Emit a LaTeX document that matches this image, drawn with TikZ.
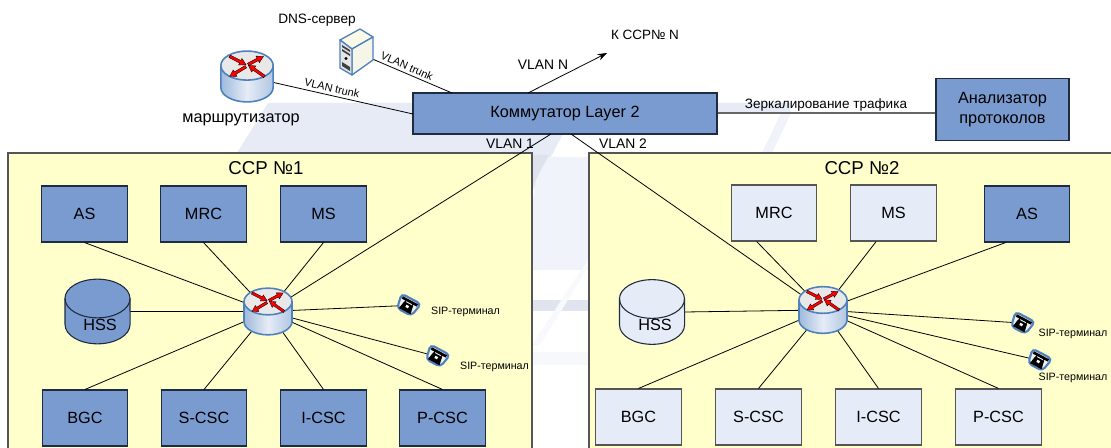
\documentclass[tikz,border=0pt]{standalone}
\usepackage{fontspec}
\setmainfont{Liberation Sans}
\usetikzlibrary{arrows.meta,shapes.geometric}
\definecolor{panelc}{HTML}{FFFFCC}
\definecolor{boxc}{HTML}{7A9BCF}
\definecolor{boxl}{HTML}{E6ECF7}
\definecolor{edgeb}{HTML}{1E2B40}
\definecolor{edgeg}{HTML}{555555}
\definecolor{rblue}{HTML}{4F81BD}
\definecolor{wm}{HTML}{E6EBF6}
\newcommand{\rarr}[4]{\begin{scope}[shift={(#1,#2)},rotate=#3]
 \filldraw[fill=red,draw=black,line width=.25pt] (0,-1.3)--(#4-6,-1.3)--(#4-6,-3.4)--(#4,0)--(#4-6,3.4)--(#4-6,1.3)--(0,1.3)--cycle;
\end{scope}}
\tikzset{
 x=.75pt,y=-.75pt,
 panel/.style={draw=edgeg,line width=1.1pt,fill=panelc},
 dkbox/.style={draw=edgeb,line width=.8pt,fill=boxc,inner sep=0pt,minimum width=64pt,minimum height=42pt,font=\fontsize{12.2pt}{14pt}\selectfont},
 ltbox/.style={draw=edgeg,line width=.8pt,fill=boxl,inner sep=0pt,minimum width=64pt,minimum height=42pt,font=\fontsize{12.2pt}{14pt}\selectfont},
 conn/.style={draw=black,line width=.6pt},
 hub/.style={ellipse,inner sep=0pt,minimum width=36pt,minimum height=35pt},
 lbl/.style={inner sep=0pt,font=\fontsize{#1}{1.15em}\selectfont,align=center},
 routerpic/.pic={
  \fill[left color=rblue!55,right color=rblue!45,middle color=boxl] (-24,-10)--(-24,10) arc[start angle=180,end angle=360,x radius=18pt,y radius=10pt]--(24,-10)--cycle;
  \draw[rblue,line width=1.2pt] (-24,-10)--(-24,10) arc[start angle=180,end angle=360,x radius=18pt,y radius=10pt]--(24,-10);
  \draw[rblue,line width=1.2pt,fill=black!9] (0,-10) ellipse[x radius=18pt,y radius=10pt];
  \begin{scope}[yshift=7.5pt]
  \rarr{1}{-1}{28}{16}\rarr{-1}{1}{211}{17.5}\rarr{-16}{-8.5}{-27}{17}\rarr{16}{10}{145}{18}
  \end{scope}
 },
 phonepic/.pic={
  \begin{scope}[rotate=-28]
  \filldraw[draw=rblue,line width=1.6pt,fill=black!6,rounded corners=3pt] (-11,-7)--(11,-7)--(8,8)--(-8,8)--cycle;
  \fill[black] (-5,-1.5)--(5,-1.5)--(6.5,7)--(-6.5,7)--cycle;
  \draw[black,line width=2pt] (-8.5,-4)--(8.5,-4);
  \draw[black,line width=.9pt] (-4,-1.5)--(-4,-4) (4,-1.5)--(4,-4);
  \fill[white] (-1.5,0.5) rectangle (1.5,3);
  \end{scope}
 }
}
\begin{document}
\begin{tikzpicture}
\useasboundingbox (0,0) rectangle (1111,448);
\fill[white] (0,0) rectangle (1111,448);
% watermark
\fill[wm] (268,103)--(790,103)--(790,113)--(717,113)--(717,134)--(563,134)--(533,190)--(533,153)--(237,153)--cycle;
\fill[wm!60!white] (781,113)--(791,113)--(772,153)--(762,153)--cycle;
\fill[wm!60!white] (540,157)--(589,157)--(589,270)--(532,270)--(532,205)--cycle;
\fill[black!4!wm] (532,155)--(549,155)--(532,187)--cycle;
\fill[black!3!wm] (532,300)--(589,300)--(589,311)--(532,311)--cycle;
\fill[wm!35!white] (532,352)--(589,352)--(589,365)--(532,365)--cycle;
\fill[wm!30!white] (589,258)--(589,266)--(540,345)--(532,345)--cycle;
% panels
\path[panel] (8,153) rectangle (532,449);
\path[panel] (589,153) rectangle (1112,449);
% node anchors placed first, then connectors, then art
\node[hub] (r0) at (247,76.5) {};
\node[hub] (r1) at (268,311.5) {};
\node[hub] (r2) at (823,310) {};
\node[inner sep=0pt,minimum width=48.75pt,minimum height=48.75pt] (hss1) at (97.5,311.5) {};
\node[inner sep=0pt,minimum width=48.75pt,minimum height=48.75pt] (hss2) at (652,312) {};
\node[draw=edgeb,line width=.8pt,fill=boxc,inner sep=0pt,minimum width=228pt,minimum height=30.75pt,font=\fontsize{12.2pt}{14pt}\selectfont] (sw) at (565,113.5) {Коммутатор Layer 2};
\node[draw=edgeb,line width=.8pt,fill=boxc,inner sep=0pt,minimum width=99.75pt,minimum height=46.5pt,font=\fontsize{12.2pt}{15pt}\selectfont,align=center] (an) at (1002.5,109.5) {Анализатор\\протоколов};
\node[dkbox] (as1) at (84.5,214) {AS};
\node[dkbox] (mrc1) at (203.5,214) {MRC};
\node[dkbox] (ms1) at (323.5,214) {MS};
\node[dkbox] (bgc1) at (85,418) {BGC};
\node[dkbox] (sc1) at (204,418) {S-CSC};
\node[dkbox] (ic1) at (323.5,418) {I-CSC};
\node[dkbox] (pc1) at (442.5,418) {P-CSC};
\node[ltbox] (mrc2) at (774,213) {MRC};
\node[ltbox] (ms2) at (893.5,213) {MS};
\node[dkbox] (as2) at (1027,214) {AS};
\node[ltbox] (bgc2) at (638.5,417) {BGC};
\node[ltbox] (sc2) at (758.5,417) {S-CSC};
\node[ltbox] (ic2) at (878.5,417) {I-CSC};
\node[ltbox] (pc2) at (998.5,417) {P-CSC};
\node[inner sep=0pt,minimum size=9pt] (ph1) at (406,305.5) {};
\node[inner sep=0pt,minimum size=9pt] (ph2) at (435,356) {};
\node[inner sep=0pt,minimum size=9pt] (ph3) at (1020,323) {};
\node[inner sep=0pt,minimum size=9pt] (ph4) at (1037,360) {};
\node[inner sep=0pt,minimum width=25pt,minimum height=25pt] (srv) at (356,52) {};
\coordinate (s0) at (413,114);
\coordinate (s1) at (452,93);
\coordinate (s2) at (528,93);
\coordinate (s3) at (551,134);
\coordinate (s4) at (571,134);
\coordinate (ktip) at (607,53);
% connectors
\draw[conn] (r0) -- (s0);
\draw[conn] (srv) -- (s1);
\draw[conn,-{Stealth[length=7pt,width=5pt]}] (s2) -- (ktip);
\draw[draw=black!60,line width=1.5pt] (sw.east) -- (sw.east -| an.west);
\draw[conn] (s3) -- (r1);
\draw[conn] (s4) -- (r2);
\foreach \t in {as1.south,mrc1.south,ms1.south,bgc1.north,sc1.north,ic1.north,pc1.north,hss1.east,ph1,ph2}
 \draw[conn] (r1) -- (\t);
\foreach \t in {bgc2.north,sc2.north,ic2.north,pc2.north,hss2.east,ph3,ph4}
 \draw[conn] (r2) -- (\t);
\draw[conn] (r2) -- ([xshift=-13pt]mrc2.south);
\draw[conn] (r2) -- ([xshift=-13pt]ms2.south);
\draw[conn] (r2) -- ([xshift=-16pt]as2.south);
% art
\pic[scale=1.09,transform shape] at (247,76.5) {routerpic};
\pic at (268,311.5) {routerpic};
\pic at (823,310) {routerpic};
\foreach \x/\y/\cc in {97.5/311.5/boxc,652/312/boxl}{
 \begin{scope}[shift={(\x,\y)}]
 \filldraw[fill=\cc,draw=edgeb,line width=.8pt] (-32.5,-13) -- (-32.5,13) arc[start angle=180,end angle=360,x radius=24.4pt,y radius=14.5pt] -- (32.5,-13) arc[start angle=0,end angle=180,x radius=24.4pt,y radius=14.5pt] -- cycle;
 \draw[edgeb,line width=.8pt] (-32.5,-13) arc[start angle=180,end angle=360,x radius=24.4pt,y radius=14.5pt];
 \end{scope}
}
\node[lbl=12.2pt] (hsst1) at (100,325) {HSS};
\node[lbl=12.2pt] (hsst2) at (655,325) {HSS};
\pic at (408,305) {phonepic};
\pic at (437,356) {phonepic};
\pic at (1022,323) {phonepic};
\pic at (1039,360) {phonepic};
% server
\filldraw[fill=black!5!panelc!40!white,draw=rblue,line width=1pt,line join=round] (340,40)--(360,29)--(373,37)--(352,49)--cycle;
\filldraw[fill=black!12!panelc!30!white,draw=rblue,line width=1pt,line join=round] (352,49)--(373,37)--(373,60)--(352,75)--cycle;
\filldraw[fill=black!10,draw=rblue,line width=1pt,line join=round] (340,40)--(352,49)--(352,75)--(340,68)--cycle;
\fill[black!75] (342,45)--(350,50)--(350,52)--(342,47)--cycle (342,49)--(350,54)--(350,56)--(342,51)--cycle (342,62)--(350,67)--(350,71)--(342,66)--cycle;
\fill[black] (346,58.5) circle[radius=1.2pt];
% labels
\node[lbl=8.2pt,rotate=-13] (t1) at (332,88) {VLAN trunk};
\node[lbl=8.2pt,rotate=-24] (t2) at (407,66) {VLAN trunk};
\node[lbl=10.2pt] (t3) at (317,20) {DNS-сервер};
\node[lbl=12.2pt] (t4) at (241,120) {маршрутизатор};
\node[lbl=10.4pt] (t5) at (543,65) {VLAN N};
\node[lbl=10.1pt] (t6) at (645,35) {К ССР№ N};
\node[lbl=10.4pt] (t7) at (510,144) {VLAN 1};
\node[lbl=10.4pt] (t8) at (623,144) {VLAN 2};
\node[lbl=10.15pt] (t9) at (826,105) {Зеркалирование трафика};
\node[lbl=14pt] (t10) at (266,168) {ССР №1};
\node[lbl=14pt] (t11) at (862,168) {ССР №2};
\node[lbl=8pt] (p1) at (465.5,312) {SIP-терминал};
\node[lbl=8pt] (p2) at (494.5,367) {SIP-терминал};
\node[lbl=8pt] (p3) at (1073,334) {SIP-терминал};
\node[lbl=8pt] (p4) at (1073,378) {SIP-терминал};
\end{tikzpicture}
\end{document}
